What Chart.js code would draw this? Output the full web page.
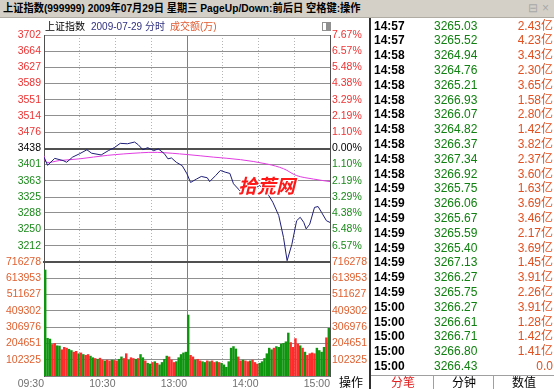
<!DOCTYPE html>
<html>
<head>
<meta charset="utf-8">
<script src="https://cdn.jsdelivr.net/npm/chart.js@4.4.1/dist/chart.umd.min.js"></script>
<style>
body{margin:0;width:554px;height:389px;overflow:hidden;background:#fff;position:relative;font-family:"Liberation Sans","Noto Sans CJK SC",sans-serif;}
#titlebar{position:absolute;left:0;top:0;width:554px;height:18px;background:#d4d0c8;border-bottom:1px solid #b0aca4;box-sizing:border-box;font-weight:bold;font-size:11px;line-height:17px;padding-left:3px;white-space:nowrap;color:#000;}
#titlebar .tx{display:inline-block;transform:scaleX(0.93);transform-origin:0 50%;}
#titlebar .ic{position:absolute;top:0;color:#a8a8a8;font-weight:normal;font-size:12px;}
#hdr{position:absolute;left:45px;top:20px;font-size:10px;line-height:14px;white-space:nowrap;}
#hdr .b{color:#303080;margin-left:6px}
#hdr .o{color:#e05a30;margin-left:5px}
#box{position:absolute;left:322px;top:22px;width:7px;height:7px;border:1px solid #909090;background:linear-gradient(90deg,#fff 50%,#909090 50%);}
#pc{position:absolute;left:0;top:18px;}
#vc{position:absolute;left:0;top:250px;}
#wm{position:absolute;left:238px;top:174px;color:#ff1818;font-size:19px;font-weight:bold;font-style:italic;font-family:"Noto Sans CJK SC",sans-serif;text-shadow:1px 1px 0 #fff,-1px -1px 0 #fff,1px -1px 0 #fff,-1px 1px 0 #fff;line-height:22px;}
#op{position:absolute;left:339px;top:376px;font-size:12px;line-height:14px;}
#side{position:absolute;left:369px;top:18px;width:185px;height:371px;border-left:2px solid #303030;box-sizing:border-box;}
.row{position:absolute;left:0;width:183px;height:15px;font-size:12px;line-height:15px;white-space:nowrap;}
.row .t{position:absolute;left:3px;font-weight:bold;color:#000;}
.row .p{position:absolute;left:63px;color:#108010;}
.row .a{position:absolute;right:1px;color:#e05020;}
#foot{position:absolute;left:0;top:357px;width:183px;height:14px;border-top:1px solid #a0a0a0;font-size:12px;line-height:14px;}
#foot span{position:absolute;top:0;width:60px;text-align:center;}
#foot i{position:absolute;top:0;width:1px;height:14px;background:#a0a0a0;}
</style>
</head>
<body>
<div id="titlebar"><span class="tx">上证指数(999999) 2009年07月29日 星期三 PageUp/Down:前后日 空格键:操作</span><span class="ic" style="left:528px">⊟</span><span class="ic" style="left:542px">×</span></div>
<canvas id="pc" width="370" height="264"></canvas>
<canvas id="vc" width="370" height="139"></canvas>
<div id="hdr">上证指数<span class="b">2009-07-29 分时</span><span class="o">成交额(万)</span></div>
<div id="box"></div>
<div id="wm">拾荒网</div>
<div id="op">操作</div>
<div id="side"></div>
<script>
// 分时价格 (minutes after 09:30, trading time)
const priceTimes=[0,3,9,16,19,24,30,36,40,48,54,59,64,70,76,79,83,87,92,96,101,104,107,111,116,120,123,128,132,137,139,144,148,152,156,159,165,170,176,181,187,192,197,201,204,208,212,215,218,220,223,227,230,233,237,240];
const priceValues=[3418,3399,3415,3410,3406,3418,3426,3435,3427,3423,3433,3440,3450,3449,3453,3447,3435,3440,3433,3437,3426,3414,3416,3406,3398,3379,3359,3367,3373,3370,3361,3375,3387,3383,3380,3356,3338,3348,3344,3352,3336,3313,3282,3231,3177,3215,3270,3278,3266,3251,3262,3301,3303,3289,3270,3266];
// 均价线
const avgTimes=[0,2,13,30,53,81,95,120,142,165,187,201,212,226,240];
const avgValues=[3421,3406,3410,3414,3422,3428,3429,3424,3418,3412,3402,3391,3375,3367,3361];

// 成交额(万), one bar per 2 minutes
const volValues=[666000,237000,232000,198000,205000,190000,188000,165000,180000,175000,
168000,160000,150000,155000,140000,145000,135000,130000,135000,125000,
115000,110000,105000,112000,100000,95000,100000,95000,100000,98000,
95000,105000,120000,110000,140000,100000,115000,110000,105000,110000,
135000,115000,95000,80000,75000,85000,90000,80000,70000,85000,
105000,125000,120000,100000,85000,90000,115000,135000,145000,150000,
383000,130000,120000,100000,105000,95000,90000,85000,95000,90000,
95000,85000,90000,85000,80000,70000,55000,90000,175000,185000,
170000,120000,95000,100000,95000,90000,95000,100000,85000,75000,
80000,90000,110000,140000,175000,165000,175000,185000,180000,200000,
205000,215000,270000,210000,180000,235000,200000,190000,175000,150000,
130000,140000,145000,140000,175000,160000,150000,180000,240000,300000];
// 1 = up (red), -1 = down (green)
const volDir=[-1,-1,-1,1,1,-1,-1,1,1,1,
-1,-1,1,1,-1,1,-1,1,1,-1,
-1,1,-1,1,1,-1,1,1,-1,1,
1,-1,-1,1,1,-1,1,1,-1,1,
-1,-1,1,-1,-1,1,-1,1,-1,-1,
-1,-1,1,1,1,-1,-1,-1,-1,-1,
-1,1,1,-1,1,1,-1,-1,1,-1,
1,1,-1,1,-1,-1,-1,-1,-1,-1,
-1,1,1,-1,1,1,-1,1,1,1,
-1,-1,-1,-1,-1,-1,1,-1,-1,-1,
-1,-1,-1,1,1,1,1,-1,1,-1,
1,1,1,1,-1,-1,-1,-1,1,-1];
const volTimes=volValues.map((v,i)=>1+2*i);

const priceMin=3174, priceMax=3702, prevClose=3438;
const priceTickValues=[3702,3664,3627,3589,3551,3514,3476,3438,3401,3363,3325,3288,3250,3212];
const priceTickLabels=['3702','3664','3627','3589','3551','3514','3476','3438','3401','3363','3325','3288','3250','3212'];
const pctTickLabels=['7.67%','6.57%','5.48%','4.38%','3.29%','2.19%','1.10%','0.00%','1.10%','2.19%','3.29%','4.38%','5.48%','6.57%'];
const volMax=716278;
const volTickValues=[716278,613953,511627,409302,306976,204651,102325];
const volTickLabels=['716278','613953','511627','409302','306976','204651','102325'];
const timeTickValues=[0,60,120,180,240];
const timeTickLabels=['09:30','10:30','13:00','14:00','15:00'];

// 分笔 table
const tradeTimes=['14:57','14:57','14:58','14:58','14:58','14:58','14:58','14:58','14:58','14:58','14:58','14:59','14:59','14:59','14:59','14:59','14:59','14:59','14:59','15:00','15:00','15:00','15:00','15:00'];
const tradePrices=['3265.03','3265.52','3264.94','3264.76','3265.21','3266.93','3266.07','3264.82','3266.37','3267.34','3266.92','3265.75','3266.06','3265.67','3265.59','3265.40','3267.13','3266.27','3265.75','3266.27','3266.61','3266.71','3266.80','3266.43'];
const tradeAmounts=['2.43亿','4.23亿','3.43亿','2.30亿','3.65亿','1.58亿','2.80亿','1.42亿','3.82亿','2.37亿','3.60亿','1.63亿','3.69亿','3.46亿','2.17亿','3.69亿','1.45亿','3.91亿','2.26亿','3.91亿','1.28亿','1.42亿','1.41亿','0.0'];

const RED='#ee3333', GREEN='#1a8a1a', ORANGE='#e06030';
Chart.defaults.font.family='"Liberation Sans","Noto Sans CJK SC",sans-serif';
Chart.defaults.font.size=10.5;

function tickColor(i){return i<7?RED:(i===7?'#000':GREEN);}
function halfHourTicks(s){s.ticks=[];for(let m=0;m<=240;m+=30)s.ticks.push({value:m});}
function tv(c){return c&&c.tick?c.tick.value:null;}
const vGrid={
    drawTicks:false,offset:false,
    color:c=>{const v=tv(c);return v===120?'#808080':((v===0||v===240||v===null)?'rgba(0,0,0,0)':'#b4b4b4');}
};
function vBorder(col,w){
    return {display:true,color:col,width:w,dash:c=>{const v=tv(c);return (v===null||v===120)?[]:[1,2];}};
}

new Chart(document.getElementById('pc'),{
    type:'line',
    data:{datasets:[
        {data:priceTimes.map((t,i)=>({x:t,y:priceValues[i]})),borderColor:'#1e1e78',borderWidth:1,pointRadius:0,tension:0},
        {data:avgTimes.map((t,i)=>({x:t,y:avgValues[i]})),borderColor:'#e03ce0',borderWidth:1,pointRadius:0,tension:0.35}
    ]},
    options:{
        responsive:false,animation:false,
        layout:{padding:{top:17,bottom:20,left:0,right:0}},
        plugins:{legend:{display:false},tooltip:{enabled:false}},
        scales:{
            x:{type:'linear',min:0,max:240,offset:false,afterBuildTicks:halfHourTicks,ticks:{display:false},grid:vGrid,
               border:vBorder('#505050',2),afterFit:s=>{s.height=0;}},
            y:{position:'left',min:priceMin,max:priceMax,
               afterBuildTicks:s=>{s.ticks=priceTickValues.map(v=>({value:v}));},
               ticks:{padding:3,color:c=>tickColor(c.index),callback:(v,i)=>priceTickLabels[i]},
               grid:{drawTicks:false,color:c=>tv(c)===prevClose?'#505050':'#909090',lineWidth:c=>tv(c)===prevClose?2:1},
               border:{display:true,color:'#505050',width:1},
               afterFit:s=>{s.width=44;}},
            y2:{position:'right',min:priceMin,max:priceMax,
               afterBuildTicks:s=>{s.ticks=priceTickValues.map(v=>({value:v}));},
               ticks:{padding:2,color:c=>tickColor(c.index),callback:(v,i)=>pctTickLabels[i]},
               grid:{drawOnChartArea:false,drawTicks:false},
               border:{display:true,color:'#505050',width:1},
               afterFit:s=>{s.width=40;}}
        }
    }
});

new Chart(document.getElementById('vc'),{
    type:'bar',
    data:{datasets:[{
        data:volTimes.map((t,i)=>({x:t,y:volValues[i]})),
        backgroundColor:volDir.map(d=>d>0?'#ff2a2a':'#0f960f'),
        borderWidth:0,barThickness:1.8
    }]},
    options:{
        responsive:false,animation:false,
        layout:{padding:{top:12,bottom:0,left:0,right:0}},
        plugins:{legend:{display:false},tooltip:{enabled:false}},
        scales:{
            x:{type:'linear',min:0,max:240,offset:false,afterBuildTicks:halfHourTicks,
               ticks:{autoSkip:false,maxRotation:0,align:'end',padding:2,color:'#707070',
                      callback:v=>{const k=timeTickValues.indexOf(v);return k<0?'':timeTickLabels[k];}},
               grid:vGrid,border:vBorder('#808080',1),afterFit:s=>{s.height=13;}},
            y:{position:'left',min:0,max:volMax,
               afterBuildTicks:s=>{s.ticks=volTickValues.map(v=>({value:v}));},
               ticks:{padding:3,color:ORANGE,callback:(v,i)=>volTickLabels[i]},
               grid:{drawTicks:false,color:c=>tv(c)===volMax?'#505050':'#909090',lineWidth:c=>tv(c)===volMax?2:1},
               border:{display:true,color:'#505050',width:1},
               afterFit:s=>{s.width=44;}},
            y2:{position:'right',min:0,max:volMax,
               afterBuildTicks:s=>{s.ticks=volTickValues.map(v=>({value:v}));},
               ticks:{padding:2,color:ORANGE,callback:(v,i)=>volTickLabels[i]},
               grid:{drawOnChartArea:false,drawTicks:false},
               border:{display:true,color:'#505050',width:1},
               afterFit:s=>{s.width=40;}}
        }
    }
});

// right-hand 分笔 list
const side=document.getElementById('side');
tradeTimes.forEach((t,i)=>{
    const r=document.createElement('div');
    r.className='row';
    r.style.top=(0.5+i*14.8)+'px';
    r.innerHTML=`<span class="t">${t}</span><span class="p">${tradePrices[i]}</span><span class="a">${tradeAmounts[i]}</span>`;
    side.appendChild(r);
});
const foot=document.createElement('div');
foot.id='foot';
foot.innerHTML='<span style="left:2px;color:#e02020">分笔</span><i style="left:62px"></i><span style="left:63px">分钟</span><i style="left:122px"></i><span style="left:123px">数值</span>';
side.appendChild(foot);
</script>
</body>
</html>
